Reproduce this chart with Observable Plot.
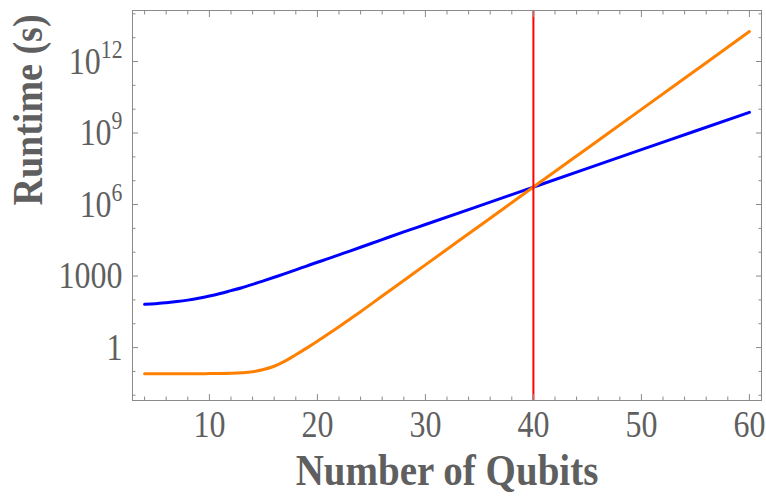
<!DOCTYPE html>
<html>
<head>
<meta charset="utf-8">
<script src="https://cdn.jsdelivr.net/npm/d3@7"></script>
<script src="https://cdn.jsdelivr.net/npm/@observablehq/plot@0.6"></script>
<style>
  body { margin: 0; background: #fff; }
</style>
</head>
<body>
<div id="chart"></div>
<script>
// ---- data ----
const qubits = [4, 5, 6, 7, 8, 9, 10, 11, 12, 13, 14, 15, 16, 17, 18, 19, 20, 21, 22, 23, 24, 26, 28, 30, 35, 40, 45, 50, 55, 60];
const blueRuntime = [65, 69, 76, 85, 98, 117, 145, 186, 245, 324, 447, 630, 890, 1260, 1820, 2630, 3800, 5370, 7760, 1.12e4, 1.62e4, 3.4e4, 7.1e4, 1.45e5, 8.8e5, 5.4e6, 3.3e7, 2.0e8, 1.22e9, 7.4e9];
const orangeRuntime = [0.079, 0.079, 0.079, 0.079, 0.08, 0.08, 0.081, 0.082, 0.084, 0.088, 0.097, 0.12, 0.165, 0.27, 0.5, 0.95, 1.85, 3.7, 7.5, 15.5, 32, 145, 650, 2950, 1.26e5, 5.4e6, 2.3e8, 9.8e9, 4.2e11, 1.8e13];
const crossoverQubits = [40];

const xMajorTicks = [10, 20, 30, 40, 50, 60];
const xMinorTicks = [4, 6, 8, 12, 14, 16, 18, 22, 24, 26, 28, 32, 34, 36, 38, 42, 44, 46, 48, 52, 54, 56, 58];
const yMajorTicks = [1, 1e3, 1e6, 1e9, 1e12];
const yTickLabels = ["1", "1000", "10^6", "10^9", "10^12"];
const yMinorTicks = [1e-2, 1e-1, 1e1, 1e2, 1e4, 1e5, 1e7, 1e8, 1e10, 1e11, 1e13, 1e14];

const xTitle = "Number of Qubits";
const yTitle = "Runtime (s)";

const blueData = qubits.map((q, i) => ({q, v: blueRuntime[i]}));
const orangeData = qubits.map((q, i) => ({q, v: orangeRuntime[i]}));

const frameGrey = "#8a8a8a";
const labelGrey = "#5f5f5f";

const tickAxis = (axisFn, ticks, anchor, size) => {
  const off = {};
  if (anchor === "bottom") off.dy = -size;
  if (anchor === "top") off.dy = size;
  if (anchor === "left") off.dx = size;
  if (anchor === "right") off.dx = -size;
  return axisFn(ticks, {anchor, tickSize: size, tickFormat: () => "", stroke: frameGrey, label: null, ...off});
};

const chart = Plot.plot({
  width: 766,
  height: 496,
  marginLeft: 132,
  marginRight: 5,
  marginTop: 10,
  marginBottom: 96,
  x: {domain: [2.88, 61.12]},
  y: {type: "log", domain: [Math.pow(10, -2.22), Math.pow(10, 14.14)]},
  style: {fontFamily: "'Liberation Serif', 'Times New Roman', serif", background: "white", overflow: "visible"},
  marks: [
    Plot.line(blueData, {x: "q", y: "v", stroke: "#0000ff", strokeWidth: 3, curve: "monotone-x"}),
    Plot.line(orangeData, {x: "q", y: "v", stroke: "#ff8000", strokeWidth: 3, curve: "monotone-x"}),
    Plot.ruleX(crossoverQubits, {stroke: "#ff0000", strokeWidth: 2}),
    Plot.frame({stroke: frameGrey, strokeWidth: 1}),
    // ticks (inside the frame, all four sides)
    tickAxis(Plot.axisX, xMajorTicks, "bottom", 6),
    tickAxis(Plot.axisX, xMinorTicks, "bottom", 3.5),
    tickAxis(Plot.axisX, xMajorTicks, "top", 6),
    tickAxis(Plot.axisX, xMinorTicks, "top", 3.5),
    tickAxis(Plot.axisY, yMajorTicks, "left", 6),
    tickAxis(Plot.axisY, yMinorTicks, "left", 3.5),
    tickAxis(Plot.axisY, yMajorTicks, "right", 6),
    tickAxis(Plot.axisY, yMinorTicks, "right", 3.5),
    // tick labels
    Plot.axisX(xMajorTicks, {anchor: "bottom", tickSize: 0, tickPadding: 9, fontSize: 32, fill: labelGrey, label: null, tickFormat: d => String(d)}),
    Plot.axisY(yMajorTicks, {anchor: "left", tickSize: 0, tickPadding: 10, fontSize: 32, fill: labelGrey, label: null, tickFormat: d => yTickLabels[yMajorTicks.indexOf(d)]}),
    // axis titles
    Plot.text([xTitle], {text: d => d, frameAnchor: "bottom", dy: 84, fontSize: 39, fontWeight: "bold", fill: labelGrey}),
    Plot.text([yTitle], {text: d => d, frameAnchor: "left", rotate: -90, dx: -104, fontSize: 38, fontWeight: "bold", fill: labelGrey})
  ]
});

// superscript exponents in the y tick labels
d3.select(chart).selectAll("text").each(function () {
  const m = /^(\d+)\^(\d+)$/.exec(this.textContent);
  if (!m) return;
  const t = d3.select(this);
  t.text(null);
  t.append("tspan").text(m[1]);
  t.append("tspan").attr("font-size", "0.68em").attr("dy", "-0.62em").text(m[2]);
});

document.getElementById("chart").appendChild(chart);

// the reference's serif glyphs are taller for their width: enlarge, keep width
d3.select(chart).selectAll("text").each(function () {
  if (!this.textContent) return;
  const isTitle = this.textContent === xTitle || this.textContent === yTitle;
  const k = isTitle ? 1.12 : 1.2;
  const len = this.getComputedTextLength();
  const fs = parseFloat(getComputedStyle(this).fontSize);
  this.setAttribute("font-size", fs * k);
  this.setAttribute("textLength", len);
  this.setAttribute("lengthAdjust", "spacingAndGlyphs");
});
</script>
</body>
</html>
